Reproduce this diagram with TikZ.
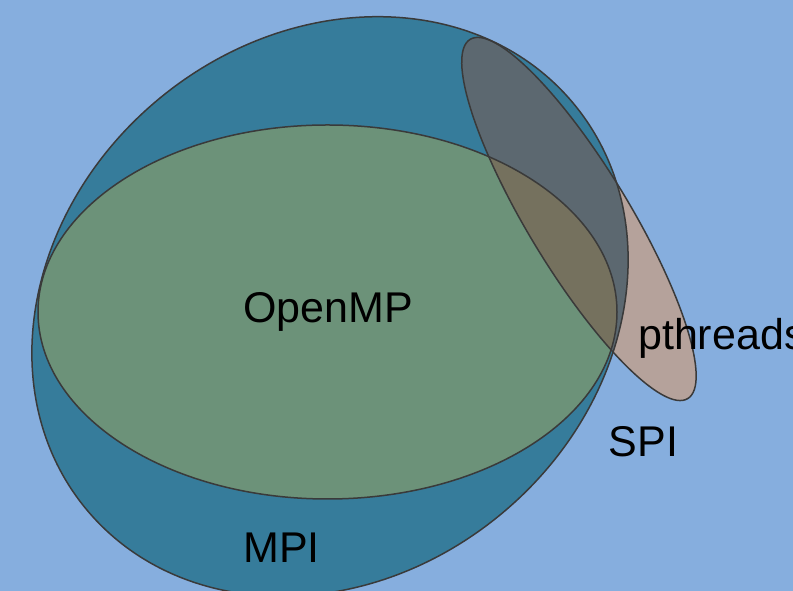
\documentclass[tikz,border=0pt]{standalone}
\usepackage{fontspec}
\setmainfont{Liberation Sans}
\usepackage{tikz}
\usetikzlibrary{positioning}

\definecolor{skyback}{RGB}{134,174,222}
\definecolor{mpiteal}{RGB}{54,124,155}
\definecolor{ompgreen}{RGB}{108,146,121}
\definecolor{pthpink}{RGB}{181,162,155}
\definecolor{mpipth}{RGB}{92,104,112}
\definecolor{omppth}{RGB}{117,113,94}
\definecolor{rimgray}{RGB}{58,58,58}

\tikzset{
  setrim/.style={draw=rimgray, line width=1.5pt},
  setlabel/.style={font=\fontsize{43}{50}\selectfont, inner sep=0pt},
}

\begin{document}
\begin{tikzpicture}[x=1pt, y=1pt]
				\useasboundingbox (0,0) rectangle (793,591);
				\clip (0,0) rectangle (793,591);
				\fill[skyback] (0,0) rectangle (793,591);
				
				\coordinate (MPI) at (330,284.5);
				\coordinate (OMP) at (327.5,279);
				\coordinate (PTH) at (579,372);
				
				% the three sets
				\fill[mpiteal, rotate around={40:(MPI)}] (MPI) ellipse (317 and 269);
				\fill[ompgreen] (OMP) ellipse (289.5 and 187);
				\fill[pthpink, rotate around={-58.8:(PTH)}] (PTH) ellipse (210 and 51);
				
				% overlaps
				\begin{scope}
					\clip[rotate around={40:(MPI)}] (MPI) ellipse (317 and 269);
					\fill[mpipth, rotate around={-58.8:(PTH)}] (PTH) ellipse (210 and 51);
				\end{scope}
				\begin{scope}
					\clip (OMP) ellipse (289.5 and 187);
					\fill[omppth, rotate around={-58.8:(PTH)}] (PTH) ellipse (210 and 51);
				\end{scope}
				
				\draw[setrim, rotate around={40:(MPI)}] (MPI) ellipse (317 and 269);
				\draw[setrim] (OMP) ellipse (289.5 and 187);
				\draw[setrim, rotate around={-58.8:(PTH)}] (PTH) ellipse (210 and 51);
				
				\node[setlabel, anchor=base] (omplabel) at (328,268) {OpenMP};
				\node[setlabel, anchor=base] (mpilabel) at (281.5,28) {MPI};
				\node[setlabel, anchor=base] (spilabel) at (643.5,134) {SPI};
				\node[setlabel, anchor=base west] (pthlabel) at (638,241) {pthreads};
			\end{tikzpicture}
\end{document}
